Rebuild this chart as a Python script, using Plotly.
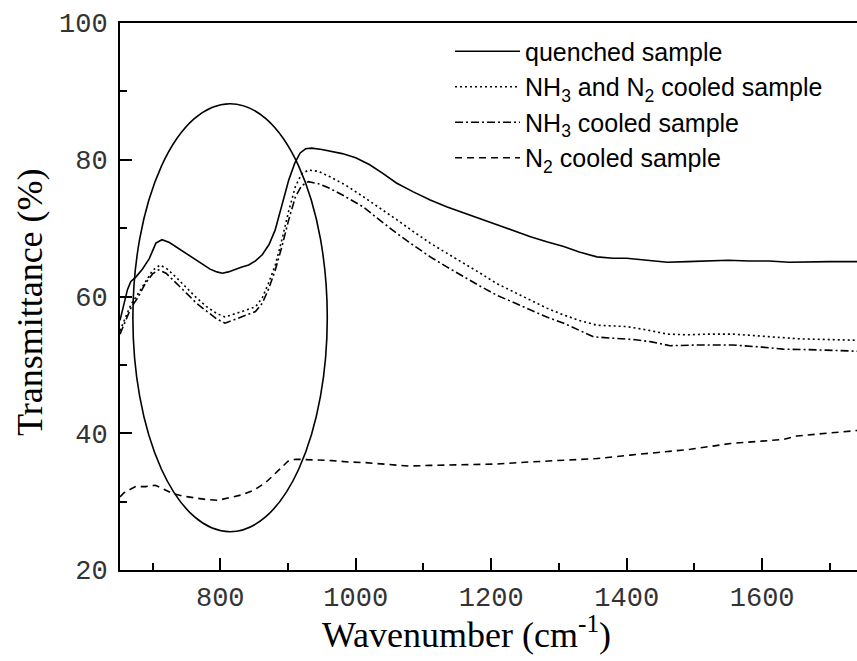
import plotly.graph_objects as go

# ---- data ----
q_x = [652,658,663,668,675,685,695,705,714,725,740,755,770,785,795,803,812,822,832,842,
       852,862,872,881,891,901,910,918,926,935,950,965,980,1000,1020,1040,1060,1085,1110,1135,
       1160,1185,1208,1233,1258,1282,1307,1330,1356,1380,1400,1430,1460,1490,1520,1550,1580,1610,1640,1670,
       1700,1740]
q_y = [56.5,59.0,61.0,62.2,62.8,64.0,65.5,67.8,68.3,67.9,66.9,65.9,64.9,64.0,63.6,63.4,63.6,64.0,64.3,64.6,
       65.2,66.1,67.6,69.7,73.2,77.0,79.5,81.0,81.6,81.7,81.5,81.2,80.9,80.3,79.3,78.0,76.6,75.3,74.1,73.1,
       72.2,71.3,70.5,69.6,68.75,68.0,67.3,66.5,65.8,65.6,65.6,65.3,65.0,65.1,65.2,65.3,65.2,65.2,65.0,65.1,
       65.1,65.1]

nn_x = [652,660,668,678,690,700,711,722,735,750,765,780,795,807,820,835,852,862,871,881,
        891,901,911,920,930,945,962,985,1011,1035,1061,1085,1110,1135,1159,1184,1208,1233,1258,1282,
        1307,1330,1356,1380,1400,1430,1460,1490,1520,1557,1600,1656,1700,1740]
nn_y = [55.0,57.0,58.8,60.3,62.3,63.8,64.6,64.0,62.8,61.3,59.8,58.5,57.5,57.0,57.4,57.9,58.5,59.8,61.9,64.5,
        68.3,72.5,76.1,77.9,78.5,78.3,77.5,76.3,74.6,73.0,71.2,69.5,67.8,66.3,64.9,63.4,61.9,60.7,59.5,58.3,
        57.3,56.5,55.8,55.7,55.6,55.1,54.5,54.4,54.5,54.5,54.2,53.8,53.7,53.6]

nh_x = [652,660,668,678,690,700,709,720,735,750,765,780,795,807,820,835,852,862,871,881,
        891,901,911,920,930,945,962,985,1011,1035,1061,1085,1110,1135,1159,1184,1208,1233,1258,1282,
        1307,1330,1351,1380,1410,1435,1464,1500,1557,1600,1631,1680,1740]
nh_y = [54.5,56.5,58.3,59.8,62.0,63.3,63.9,63.4,62.0,60.5,59.0,57.8,56.7,56.1,56.6,57.2,57.8,59.0,61.0,63.8,
        67.3,71.2,74.6,76.2,76.8,76.5,75.8,74.6,73.1,71.2,69.2,67.5,65.8,64.3,62.9,61.5,60.2,59.1,58.0,57.0,
        56.1,55.0,54.1,53.9,53.7,53.4,52.8,52.9,52.9,52.6,52.3,52.2,52.0]

n2_x = [652,658,665,675,690,704,715,729,745,763,780,797,815,832,850,866,880,891,900,911,
        925,940,965,989,1015,1039,1060,1078,1110,1160,1208,1257,1300,1356,1405,1450,1494,1553,1600,1632,
        1651,1701,1740]
n2_y = [30.7,31.3,31.7,32.2,32.2,32.4,31.9,31.2,30.8,30.5,30.3,30.2,30.6,31.0,31.7,32.7,34.0,35.1,35.9,36.2,
        36.2,36.1,36.0,35.8,35.7,35.5,35.3,35.2,35.3,35.4,35.5,35.8,36.0,36.3,36.8,37.2,37.65,38.5,38.8,39.1,
        39.6,40.0,40.4]

names = ["quenched sample",
         "NH<sub>3</sub> and N<sub>2</sub> cooled sample",
         "NH<sub>3</sub> cooled sample",
         "N<sub>2</sub> cooled sample"]

x_title = "Wavenumber (cm<sup>-1</sup>)"
y_title = "Transmittance (%)"

x_range = [652, 1740]
y_range = [20, 100]
x_ticks = [800, 1000, 1200, 1400, 1600]
y_ticks = [20, 40, 60, 80, 100]

# highlighted region (ellipse bounds in data units)
ell_x = [671, 958]
ell_y = [25.6, 88.2]

fig = go.Figure()
series = [(q_x, q_y, "solid"), (nn_x, nn_y, "2px,3px"),
          (nh_x, nh_y, "8px,3px,2px,3px"), (n2_x, n2_y, "7px,5px")]
for (xs, ys, dash), nm in zip(series, names):
    fig.add_trace(go.Scatter(x=xs, y=ys, mode="lines", name=nm,
                             line=dict(color="black", width=1.6, dash=dash)))

fig.add_shape(type="circle", xref="x", yref="y",
              x0=ell_x[0], x1=ell_x[1], y0=ell_y[0], y1=ell_y[1],
              line=dict(color="black", width=1.6))

tickfont = dict(family="Liberation Mono", size=27, color="#333")
titlefont = dict(family="Liberation Serif", size=36, color="black")

fig.add_annotation(text=x_title, xref="paper", yref="paper", x=0.4695, y=-0.069,
                   xanchor="center", yanchor="top", showarrow=False, font=titlefont)
fig.add_annotation(text=y_title, xref="paper", yref="paper", x=-0.122, y=0.49,
                   xanchor="center", yanchor="middle", showarrow=False, font=titlefont,
                   textangle=-90)

fig.update_layout(
    width=857, height=661,
    margin=dict(l=120, r=0, t=23, b=91),
    plot_bgcolor="white", paper_bgcolor="white",
    showlegend=True,
    legend=dict(x=0.4478, y=0.990, xanchor="left", yanchor="top",
                bgcolor="rgba(0,0,0,0)", itemwidth=65,
                font=dict(family="Liberation Sans", size=25, color="black"),
                tracegroupgap=0),
    xaxis=dict(range=x_range, tickvals=x_ticks, showgrid=False, zeroline=False,
               showline=True, linecolor="black", linewidth=2, mirror=True,
               ticks="inside", ticklen=12, tickwidth=2, tickcolor="black",
               minor=dict(ticks="inside", ticklen=7, tickwidth=2, tickcolor="black", dtick=100, tick0=0),
               tickfont=tickfont, ticklabelstandoff=2),
    yaxis=dict(range=y_range, tickvals=y_ticks, showgrid=False, zeroline=False,
               showline=True, linecolor="black", linewidth=2,
               ticks="inside", ticklen=12, tickwidth=2, tickcolor="black",
               minor=dict(ticks="inside", ticklen=7, tickwidth=2, tickcolor="black", dtick=10, tick0=0),
               tickfont=tickfont, ticklabelstandoff=5),
)

fig.write_html("out.html")
